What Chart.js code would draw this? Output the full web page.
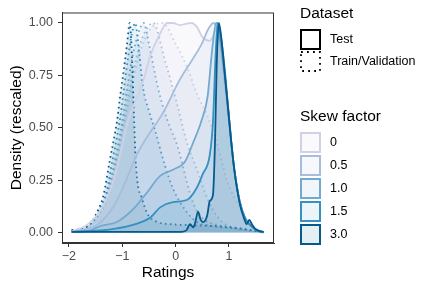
<!DOCTYPE html>
<html>
<head>
<meta charset="utf-8">
<script src="https://cdn.jsdelivr.net/npm/chart.js@4"></script>
<style>
  body { margin: 0; background: #fff; }
  #wrap { position: relative; width: 422px; height: 282px; font-family: "Liberation Sans", Arial, sans-serif; }
  #chart { position: absolute; left: 0; top: 0; }
  .ttl { position: absolute; left: 300px; font-size: 15.5px; line-height: 15.5px; color: #000; }
  .row { position: absolute; left: 300px; height: 21px; display: flex; align-items: center; }
  .key { width: 21px; height: 21px; box-sizing: border-box; border: 2px solid #000; background: #fff; }
  .lab { margin-left: 9px; font-size: 12.5px; line-height: 12.5px; color: #000; }
</style>
</head>
<body>
<div id="wrap">
  <canvas id="chart" width="422" height="282"></canvas>
  <div class="ttl" style="top:5px">Dataset</div>
  <div class="row" style="top:29px"><div class="key"></div><div class="lab">Test</div></div>
  <div class="row" style="top:51px">
    <svg width="21" height="21"><rect x="1" y="1" width="19" height="19" fill="none" stroke="#000" stroke-width="1.8" stroke-dasharray="1.8 4.2"/></svg>
    <div class="lab">Train/Validation</div>
  </div>
  <div class="ttl" style="top:108px">Skew factor</div>
  <div id="skewLegend"></div>
</div>
<script>
// skew levels and colours
const skewLabels = ["0", "0.5", "1.0", "1.5", "3.0"];
const skewColors = ["#d0d1e6", "#a6bddb", "#74a9cf", "#3690c0", "#045a8d"];

const xTicks = [-2, -1, 0, 1];
const yTicks = [0, 0.25, 0.5, 0.75, 1.0];

// Test set densities (solid)
const testX0 = [-1.95, -1.7, -1.55, -1.4, -1.23, -1.05, -0.91, -0.75, -0.6, -0.48, -0.29, -0.16, -0.05, 0.08, 0.17, 0.3, 0.4, 0.51, 0.64, 0.74, 0.79, 0.85, 0.95, 1.03, 1.1, 1.2, 1.3, 1.4, 1.5, 1.65];
const testY0 = [0.005, 0.03, 0.06, 0.11, 0.2, 0.36, 0.52, 0.63, 0.73, 0.84, 0.95, 1.0, 1.0, 0.99, 0.995, 1.0, 0.98, 0.93, 0.915, 0.96, 1.0, 0.88, 0.65, 0.45, 0.3, 0.15, 0.07, 0.035, 0.015, 0.0];

const testX05 = [-1.95, -1.7, -1.45, -1.15, -0.91, -0.75, -0.55, -0.24, 0.08, 0.3, 0.49, 0.61, 0.71, 0.77, 0.84, 0.92, 0.98, 1.04, 1.1, 1.2, 1.3, 1.4, 1.5, 1.65];
const testY05 = [0.004, 0.015, 0.04, 0.13, 0.26, 0.36, 0.45, 0.57, 0.73, 0.82, 0.9, 0.97, 1.0, 0.98, 0.9, 0.76, 0.6, 0.44, 0.3, 0.15, 0.07, 0.035, 0.015, 0.0];

const testX1 = [-1.95, -1.6, -1.42, -1.1, -0.8, -0.54, -0.29, -0.05, 0.18, 0.33, 0.48, 0.6, 0.68, 0.76, 0.82, 0.9, 0.98, 1.04, 1.1, 1.2, 1.3, 1.4, 1.5, 1.65];
const testY1 = [0.003, 0.01, 0.03, 0.05, 0.11, 0.19, 0.27, 0.3, 0.34, 0.43, 0.53, 0.65, 0.86, 1.0, 0.96, 0.8, 0.6, 0.44, 0.3, 0.15, 0.07, 0.035, 0.015, 0.0];

const testX15 = [-1.95, -1.4, -1.1, -0.8, -0.48, -0.29, -0.05, 0.21, 0.4, 0.51, 0.64, 0.7, 0.75, 0.79, 0.84, 0.92, 0.98, 1.04, 1.1, 1.2, 1.3, 1.4, 1.5, 1.65];
const testY15 = [0.003, 0.01, 0.02, 0.037, 0.07, 0.12, 0.145, 0.155, 0.215, 0.28, 0.37, 0.53, 0.85, 1.0, 0.95, 0.78, 0.61, 0.44, 0.3, 0.15, 0.07, 0.035, 0.015, 0.0];

const testX3 = [-1.95, 0.1, 0.2, 0.27, 0.33, 0.37, 0.42, 0.47, 0.52, 0.59, 0.64, 0.7, 0.74, 0.77, 0.81, 0.86, 0.92, 0.98, 1.04, 1.1, 1.2, 1.28, 1.33, 1.38, 1.43, 1.5, 1.65];
const testY3 = [0.003, 0.003, 0.01, 0.04, 0.025, 0.05, 0.1, 0.06, 0.05, 0.08, 0.15, 0.18, 0.45, 0.8, 1.0, 0.92, 0.76, 0.6, 0.44, 0.3, 0.14, 0.07, 0.04, 0.06, 0.04, 0.015, 0.003];

// Train/Validation densities (dotted)
const trainX0 = [-1.95, -1.8, -1.6, -1.45, -1.3, -1.15, -1.0, -0.85, -0.7, -0.55, -0.4, -0.24, 0.0, 0.23, 0.4, 0.59, 0.77, 0.96, 1.2, 1.34, 1.5, 1.65];
const trainY0 = [0.01, 0.015, 0.04, 0.08, 0.15, 0.28, 0.47, 0.66, 0.83, 0.94, 0.99, 1.0, 0.9, 0.78, 0.66, 0.56, 0.43, 0.25, 0.12, 0.06, 0.02, 0.0];

const trainX05 = [-1.95, -1.8, -1.6, -1.45, -1.3, -1.15, -1.0, -0.85, -0.7, -0.55, -0.42, -0.2, 0.02, 0.21, 0.4, 0.6, 0.8, 1.0, 1.3, 1.65];
const trainY05 = [0.01, 0.015, 0.04, 0.09, 0.16, 0.3, 0.5, 0.7, 0.87, 0.97, 1.0, 0.82, 0.62, 0.43, 0.3, 0.16, 0.07, 0.03, 0.01, 0.0];

const trainX1 = [-1.95, -1.8, -1.6, -1.45, -1.3, -1.15, -1.0, -0.9, -0.8, -0.7, -0.6, -0.5, -0.33, -0.16, 0.05, 0.2, 0.33, 0.5, 0.8, 1.2, 1.65];
const trainY1 = [0.01, 0.015, 0.04, 0.09, 0.17, 0.33, 0.53, 0.7, 0.85, 0.95, 1.0, 0.9, 0.69, 0.54, 0.4, 0.25, 0.14, 0.07, 0.035, 0.02, 0.0];

const trainX15 = [-1.95, -1.8, -1.65, -1.5, -1.4, -1.3, -1.18, -1.05, -0.98, -0.9, -0.82, -0.76, -0.68, -0.61, -0.5, -0.39, -0.2, -0.05, 0.2, 0.4, 0.7, 1.1, 1.4, 1.65];
const trainY15 = [0.01, 0.015, 0.03, 0.07, 0.12, 0.19, 0.35, 0.53, 0.66, 0.82, 0.95, 1.0, 0.85, 0.69, 0.58, 0.49, 0.32, 0.21, 0.1, 0.05, 0.03, 0.02, 0.01, 0.0];

const trainX3 = [-1.95, -1.8, -1.65, -1.55, -1.45, -1.36, -1.23, -1.1, -1.04, -0.97, -0.91, -0.86, -0.82, -0.78, -0.75, -0.71, -0.64, -0.53, -0.34, -0.1, 0.3, 0.8, 1.2, 1.45, 1.65];
const trainY3 = [0.01, 0.015, 0.03, 0.06, 0.11, 0.17, 0.35, 0.53, 0.65, 0.78, 0.9, 1.0, 0.85, 0.55, 0.35, 0.23, 0.17, 0.09, 0.05, 0.04, 0.035, 0.03, 0.02, 0.01, 0.0];

const testSeries = [[testX0, testY0], [testX05, testY05], [testX1, testY1], [testX15, testY15], [testX3, testY3]];
const trainSeries = [[trainX0, trainY0], [trainX05, trainY05], [trainX1, trainY1], [trainX15, trainY15], [trainX3, trainY3]];

function hexA(hex, a) {
  const n = parseInt(hex.slice(1), 16);
  return "rgba(" + (n >> 16) + "," + ((n >> 8) & 255) + "," + (n & 255) + "," + a + ")";
}

function toPts(xs, ys) {
  return xs.map((x, i) => ({ x: x, y: ys[i] }));
}

const fillAlpha = 0.13;
const datasets = [];
// train first (drawn below), test on top; darker skew on top
trainSeries.forEach(function (s, i) {
  datasets.push({
    label: "Train " + skewLabels[i],
    data: toPts(s[0], s[1]),
    borderColor: skewColors[i],
    backgroundColor: hexA(skewColors[i], fillAlpha),
    borderWidth: 1.8,
    borderDash: [1.6, 3.4],
    fill: "origin",
    order: 20 - i
  });
});
testSeries.forEach(function (s, i) {
  datasets.push({
    label: "Test " + skewLabels[i],
    data: toPts(s[0], s[1]),
    borderColor: skewColors[i],
    backgroundColor: hexA(skewColors[i], fillAlpha),
    borderWidth: 1.8,
    fill: "origin",
    order: 10 - i
  });
});

// panel border like ggplot
const panelBorder = {
  id: "panelBorder",
  afterDraw(chart) {
    const a = chart.chartArea, ctx = chart.ctx;
    ctx.save();
    ctx.strokeStyle = "#333333";
    ctx.lineWidth = 1;
    ctx.strokeRect(a.left + 0.5, a.top + 0.5, a.right - a.left - 1, a.bottom - a.top - 1);
    ctx.restore();
  }
};

Chart.defaults.font.family = "'Liberation Sans', Arial, sans-serif";

new Chart(document.getElementById("chart"), {
  type: "line",
  data: { datasets: datasets },
  options: {
    responsive: false,
    animation: false,
    devicePixelRatio: 1,
    layout: { padding: { left: 0, top: 8, right: 148, bottom: 0 } },
    elements: {
      point: { radius: 0 },
      line: { cubicInterpolationMode: "monotone" }
    },
    plugins: { legend: { display: false }, tooltip: { enabled: false } },
    scales: {
      x: {
        type: "linear",
        min: -2.13,
        max: 1.844,
        afterBuildTicks: s => { s.ticks = xTicks.map(v => ({ value: v })); },
        afterFit: s => { s.height = 39; },
        ticks: {
          color: "#4d4d4d",
          font: { size: 12.5 },
          padding: 2,
          maxRotation: 0,
          callback: v => (v < 0 ? "\u2212" + Math.abs(v) : String(v))
        },
        grid: { drawOnChartArea: false, tickLength: 4, tickColor: "#333333", tickWidth: 1 },
        border: { display: true, color: "#333333" },
        title: { display: true, text: "Ratings", color: "#000", font: { size: 15.5 }, padding: { top: 0, bottom: 0 } }
      },
      y: {
        min: -0.05,
        max: 1.05,
        afterBuildTicks: s => { s.ticks = yTicks.map(v => ({ value: v })); },
        afterFit: s => { s.width = 62; },
        ticks: {
          color: "#4d4d4d",
          font: { size: 12.5 },
          padding: 5,
          callback: v => v.toFixed(2)
        },
        grid: { drawOnChartArea: false, tickLength: 4, tickColor: "#333333", tickWidth: 1 },
        border: { display: true, color: "#333333" },
        title: { display: true, text: "Density (rescaled)", color: "#000", font: { size: 15.5 }, padding: { top: 7, bottom: 0 } }
      }
    }
  },
  plugins: [panelBorder]
});

// skew factor legend keys
const skewLegend = document.getElementById("skewLegend");
skewLabels.forEach(function (lab, i) {
  const row = document.createElement("div");
  row.className = "row";
  row.style.top = (132 + i * 23) + "px";
  const key = document.createElement("div");
  key.className = "key";
  key.style.borderColor = skewColors[i];
  key.style.background = hexA(skewColors[i], 0.1);
  const t = document.createElement("div");
  t.className = "lab";
  t.textContent = lab;
  row.appendChild(key);
  row.appendChild(t);
  skewLegend.appendChild(row);
});
</script>
</body>
</html>
